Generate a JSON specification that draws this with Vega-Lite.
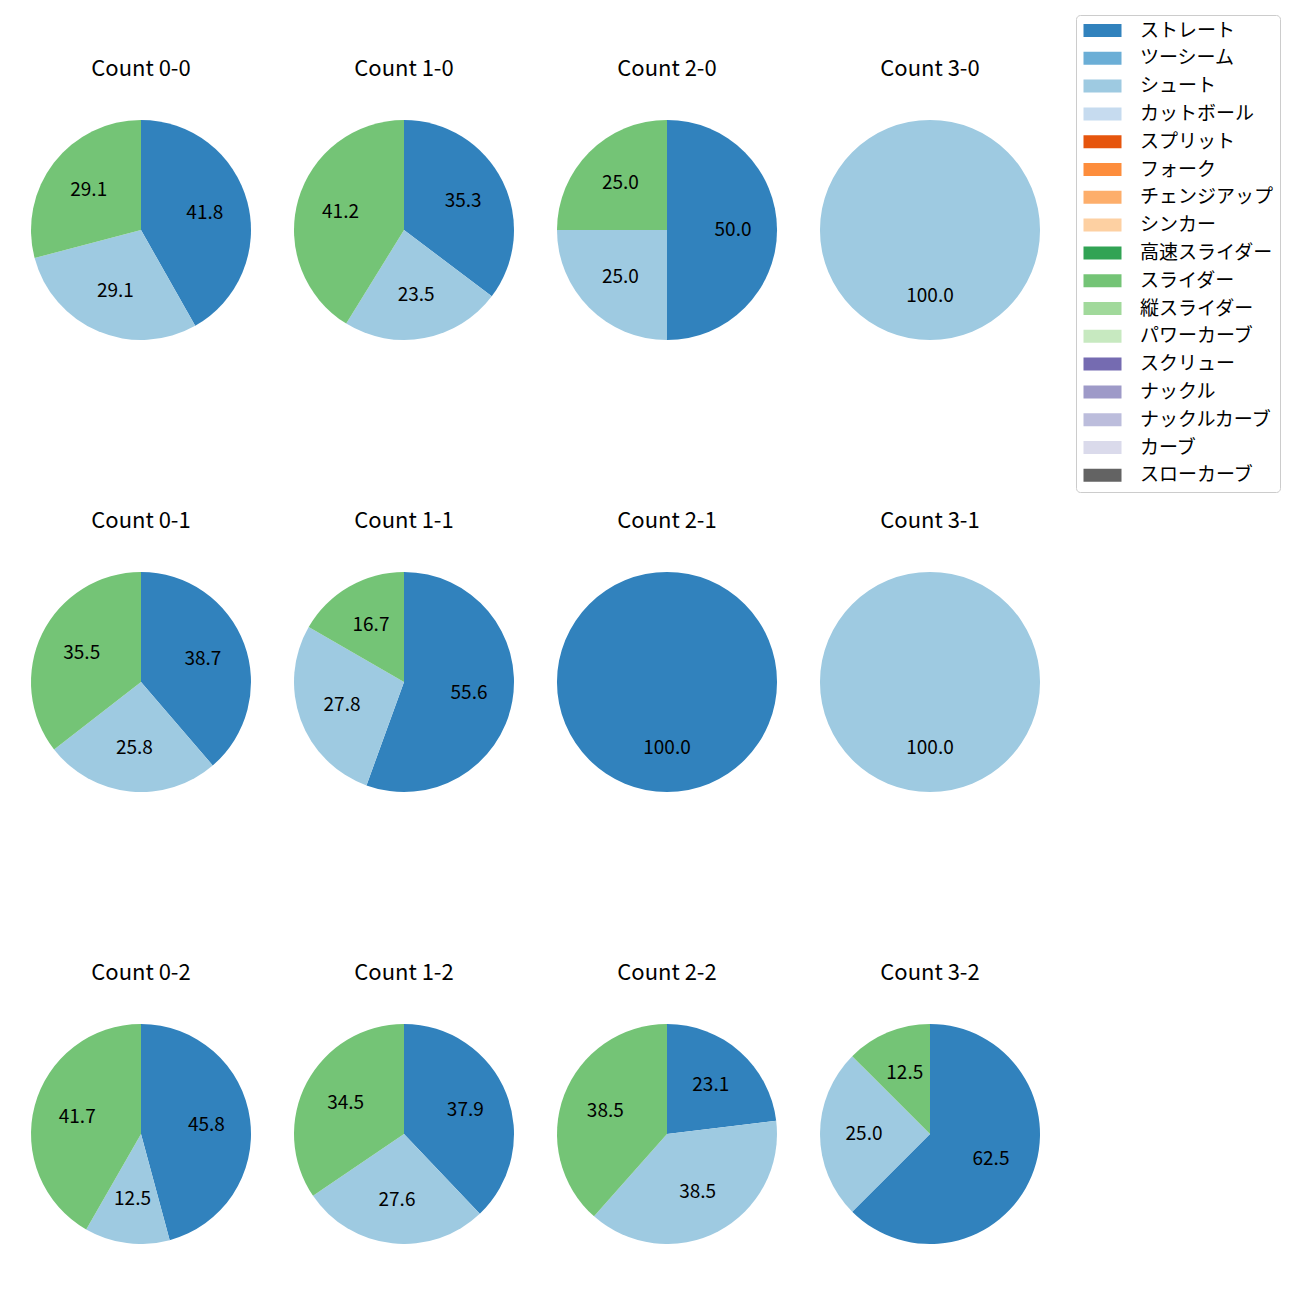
{
  "$schema": "https://vega.github.io/schema/vega-lite/v6.json",
  "padding": {"left": 31, "top": 14, "right": 0, "bottom": 0},
  "config": {"font": "Noto Sans CJK JP", "view": {"stroke": null}},
  "data": {"values": [
    {"count": "Count 0-0", "type": "ストレート", "idx": 0, "pct": 41.8},
    {"count": "Count 0-0", "type": "シュート", "idx": 2, "pct": 29.1},
    {"count": "Count 0-0", "type": "スライダー", "idx": 9, "pct": 29.1},
    {"count": "Count 1-0", "type": "ストレート", "idx": 0, "pct": 35.3},
    {"count": "Count 1-0", "type": "シュート", "idx": 2, "pct": 23.5},
    {"count": "Count 1-0", "type": "スライダー", "idx": 9, "pct": 41.2},
    {"count": "Count 2-0", "type": "ストレート", "idx": 0, "pct": 50.0},
    {"count": "Count 2-0", "type": "シュート", "idx": 2, "pct": 25.0},
    {"count": "Count 2-0", "type": "スライダー", "idx": 9, "pct": 25.0},
    {"count": "Count 3-0", "type": "シュート", "idx": 2, "pct": 100.0},
    {"count": "Count 0-1", "type": "ストレート", "idx": 0, "pct": 38.7},
    {"count": "Count 0-1", "type": "シュート", "idx": 2, "pct": 25.8},
    {"count": "Count 0-1", "type": "スライダー", "idx": 9, "pct": 35.5},
    {"count": "Count 1-1", "type": "ストレート", "idx": 0, "pct": 55.6},
    {"count": "Count 1-1", "type": "シュート", "idx": 2, "pct": 27.8},
    {"count": "Count 1-1", "type": "スライダー", "idx": 9, "pct": 16.7},
    {"count": "Count 2-1", "type": "ストレート", "idx": 0, "pct": 100.0},
    {"count": "Count 3-1", "type": "シュート", "idx": 2, "pct": 100.0},
    {"count": "Count 0-2", "type": "ストレート", "idx": 0, "pct": 45.8},
    {"count": "Count 0-2", "type": "シュート", "idx": 2, "pct": 12.5},
    {"count": "Count 0-2", "type": "スライダー", "idx": 9, "pct": 41.7},
    {"count": "Count 1-2", "type": "ストレート", "idx": 0, "pct": 37.9},
    {"count": "Count 1-2", "type": "シュート", "idx": 2, "pct": 27.6},
    {"count": "Count 1-2", "type": "スライダー", "idx": 9, "pct": 34.5},
    {"count": "Count 2-2", "type": "ストレート", "idx": 0, "pct": 23.1},
    {"count": "Count 2-2", "type": "シュート", "idx": 2, "pct": 38.5},
    {"count": "Count 2-2", "type": "スライダー", "idx": 9, "pct": 38.5},
    {"count": "Count 3-2", "type": "ストレート", "idx": 0, "pct": 62.5},
    {"count": "Count 3-2", "type": "シュート", "idx": 2, "pct": 25.0},
    {"count": "Count 3-2", "type": "スライダー", "idx": 9, "pct": 12.5}
  ]},
  "facet": {
    "field": "count", "type": "nominal",
    "sort": ["Count 0-0", "Count 1-0", "Count 2-0", "Count 3-0", "Count 0-1", "Count 1-1", "Count 2-1", "Count 3-1", "Count 0-2", "Count 1-2", "Count 2-2", "Count 3-2"],
    "title": null,
    "header": {"labelFontSize": 22, "labelColor": "#000000", "labelPadding": 39, "labelFont": "Noto Sans CJK JP"}
  },
  "columns": 4,
  "spacing": {"column": 43, "row": 170},
  "resolve": {"scale": {"theta": "independent"}},
  "spec": {
    "width": 220,
    "height": 220,
    "encoding": {
      "theta": {"field": "pct", "type": "quantitative", "stack": true},
      "order": {"field": "idx", "type": "quantitative", "sort": "ascending"},
      "color": {
        "field": "type", "type": "nominal",
        "scale": {
          "domain": ["ストレート", "ツーシーム", "シュート", "カットボール", "スプリット", "フォーク", "チェンジアップ", "シンカー", "高速スライダー", "スライダー", "縦スライダー", "パワーカーブ", "スクリュー", "ナックル", "ナックルカーブ", "カーブ", "スローカーブ"],
          "range": ["#3182bd", "#6baed6", "#9ecae1", "#c6dbef", "#e6550d", "#fd8d3c", "#fdae6b", "#fdd0a2", "#31a354", "#74c476", "#a1d99b", "#c7e9c0", "#756bb1", "#9e9ac8", "#bcbddc", "#dadaeb", "#636363"]
        },
        "legend": {
          "title": null,
          "orient": "none",
          "legendX": 1045,
          "legendY": -105,
          "symbolType": "M-1.333,-1.083H5V1.083H-1.333Z",
          "symbolSize": 144,
          "symbolStrokeWidth": 0,
          "labelFontSize": 19,
          "labelColor": "#000000",
          "labelOffset": 39,
          "padding": 6,
          "rowPadding": 7.8,
          "strokeColor": "#cccccc",
          "fillColor": "#ffffff",
          "cornerRadius": 4,
          "values": ["ストレート", "ツーシーム", "シュート", "カットボール", "スプリット", "フォーク", "チェンジアップ", "シンカー", "高速スライダー", "スライダー", "縦スライダー", "パワーカーブ", "スクリュー", "ナックル", "ナックルカーブ", "カーブ", "スローカーブ"]
        }
      }
    },
    "layer": [
      {"mark": {"type": "arc", "outerRadius": 110}},
      {"mark": {"type": "text", "radius": 66, "fontSize": 19, "color": "#000000"},
       "encoding": {"text": {"field": "pct", "type": "quantitative", "format": ".1f"}, "color": {"value": "#000000"}}}
    ]
  }
}
